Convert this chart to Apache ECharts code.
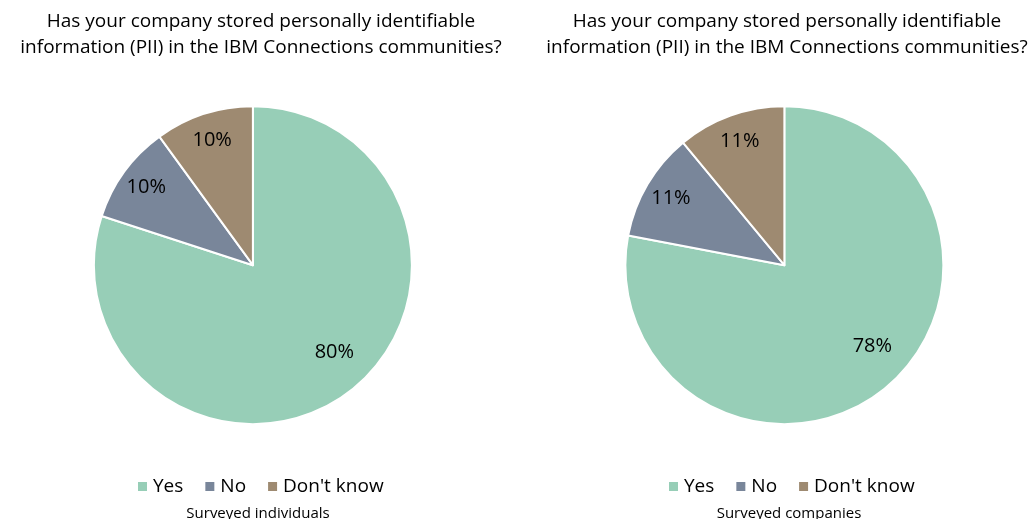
<!DOCTYPE html>
<html><head><meta charset="utf-8">
<script src="https://cdn.jsdelivr.net/npm/echarts@6/dist/echarts.min.js"></script>
<style>html,body{margin:0;padding:0;background:#fff}#c{width:1028px;height:519px}</style>
</head><body><div id="c"></div>
<script>
const categories = ["Yes", "No", "Don't know"];
const individuals = [80, 10, 10];
const companies = [78, 11, 11];
const titleText = "Has your company stored personally identifiable\ninformation (PII) in the IBM Connections communities?";
const subtitles = ["Surveyed individuals", "Surveyed companies"];
const colors = ["#97CEB7", "#79869A", "#9E8A71"];
const FONT = "'Open Sans', sans-serif";

function mk(vals) { return categories.map((n, i) => ({ name: n, value: vals[i] })); }
const centers = [["24.6%", "51.1%"], ["76.3%", "51.1%"]];
const R = 159;
function pies(vals, idx) {
  return [
    { type: 'pie', center: centers[idx], radius: [0, R], startAngle: 90, clockwise: true,
      data: mk(vals), label: { show: false }, labelLine: { show: false },
      itemStyle: { borderColor: '#fff', borderWidth: 2 }, emphasis: { disabled: true }, silent: true },
    { type: 'pie', center: centers[idx], radius: [R * 0.62, R], startAngle: 90, clockwise: true,
      data: mk(vals).map((d, i) => Object.assign(d, i === 0 ? { label: { offset: [4, -20] } } : {})),
      itemStyle: { color: 'rgba(0,0,0,0)' }, silent: true, emphasis: { disabled: true }, legendHoverLink: false,
      label: { show: true, position: 'inside', formatter: '{c}%', fontSize: 20, color: '#000', fontFamily: FONT },
      labelLine: { show: false } }
  ];
}
const ts = { fontSize: 19, fontWeight: 'normal', color: '#000', fontFamily: FONT, lineHeight: 26 };
const ss = { fontSize: 15, fontWeight: 'normal', color: '#000', fontFamily: FONT };
const ls = { fontSize: 19, color: '#000', fontFamily: FONT };
const chart = echarts.init(document.getElementById('c'));
chart.setOption({
  animation: false,
  color: colors,
  title: [
    { text: titleText, left: 256, top: 4, textAlign: 'center', textStyle: ts },
    { text: titleText, left: 782, top: 4, textAlign: 'center', textStyle: ts },
    { text: subtitles[0], left: 253, top: 501, textAlign: 'center', textStyle: ss },
    { text: subtitles[1], left: 784, top: 501, textAlign: 'center', textStyle: ss }
  ],
  legend: [
    { data: categories, left: 131, top: 472, itemWidth: 11, itemHeight: 11, itemGap: 20, icon: 'rect', textStyle: ls },
    { data: categories, left: 662, top: 472, itemWidth: 11, itemHeight: 11, itemGap: 20, icon: 'rect', textStyle: ls }
  ],
  series: [...pies(individuals, 0), ...pies(companies, 1)]
});
</script></body></html>
